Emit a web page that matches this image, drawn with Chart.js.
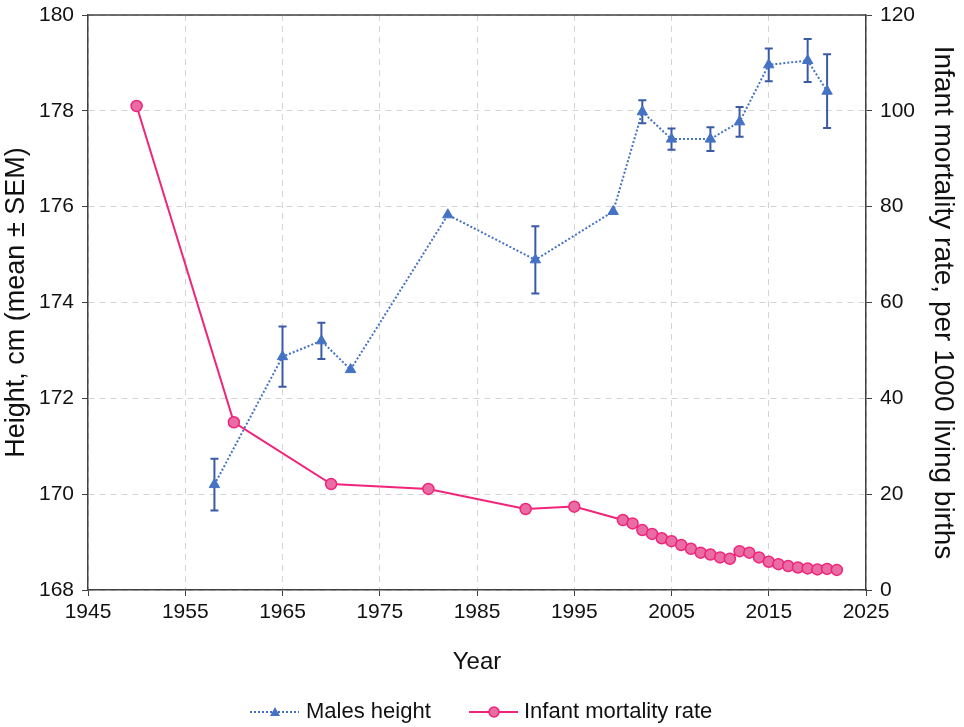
<!DOCTYPE html>
<html>
<head>
<meta charset="utf-8">
<script src="https://cdn.jsdelivr.net/npm/chart.js@4"></script>
<style>
  body { margin: 0; background: #fff; }
</style>
</head>
<body>
<canvas id="chart" width="964" height="727"></canvas>
<script>
// males height, mean and SEM
let heightYears = [1958, 1965, 1969, 1972, 1982, 1991, 1999, 2002, 2005, 2009, 2012, 2015, 2019, 2021];
let heightMean = [170.2, 172.87, 173.2, 172.6, 175.83, 174.89, 175.9, 177.98, 177.41, 177.41, 177.77, 178.96, 179.05, 178.41];
let heightSem = [0.54, 0.63, 0.38, 0, 0, 0.7, 0, 0.24, 0.22, 0.25, 0.31, 0.34, 0.45, 0.77];

// infant mortality per 1000 living births
let imrYears = [1950, 1960, 1970, 1980, 1990, 1995, 2000, 2001, 2002, 2003, 2004, 2005, 2006, 2007, 2008,
    2009, 2010, 2011, 2012, 2013, 2014, 2015, 2016, 2017, 2018, 2019, 2020, 2021, 2022];
let imrValues = [101, 35, 22.1, 21.1, 16.9, 17.4, 14.6, 13.9, 12.5, 11.7, 10.8, 10.2, 9.4, 8.6, 7.8,
    7.4, 6.8, 6.5, 8.1, 7.8, 6.8, 5.9, 5.4, 5.0, 4.7, 4.5, 4.3, 4.4, 4.2];

let xTicks = [1945, 1955, 1965, 1975, 1985, 1995, 2005, 2015, 2025];
let legendLabels = ['Males height', 'Infant mortality rate'];

let blue = '#4472C4';
let blueDark = '#3A5AA6';
let pink = '#F0247A';
let pinkFill = '#E96CA5';
let font = 'Liberation Sans, Arial, sans-serif';

let heightPts = heightYears.map((y, i) => ({x: y, y: heightMean[i]}));
let imrPts = imrYears.map((y, i) => ({x: y, y: imrValues[i]}));

let errorBars = {
    id: 'errorBars',
    beforeDatasetsDraw(chart) {
        let ctx = chart.ctx;
        let xs = chart.scales.x, ys = chart.scales.y;
        ctx.save();
        ctx.strokeStyle = blueDark;
        ctx.lineWidth = 2;
        heightYears.forEach((yr, i) => {
            if (!heightSem[i]) return;
            let px = xs.getPixelForValue(yr);
            let top = ys.getPixelForValue(heightMean[i] + heightSem[i]);
            let bot = ys.getPixelForValue(heightMean[i] - heightSem[i]);
            ctx.beginPath();
            ctx.moveTo(px, top); ctx.lineTo(px, bot);
            ctx.moveTo(px - 4, top); ctx.lineTo(px + 4, top);
            ctx.moveTo(px - 4, bot); ctx.lineTo(px + 4, bot);
            ctx.stroke();
        });
        ctx.restore();
    }
};

let frameAndLegend = {
    id: 'frameAndLegend',
    afterDraw(chart) {
        let ctx = chart.ctx;
        let a = chart.chartArea;
        ctx.save();
        // top edge of the box
        ctx.strokeStyle = '#404040';
        ctx.lineWidth = 1.5;
        ctx.beginPath();
        ctx.moveTo(a.left, a.top); ctx.lineTo(a.right, a.top);
        ctx.stroke();

        // legend
        let ly = 712;
        ctx.strokeStyle = blue;
        ctx.lineWidth = 2;
        ctx.setLineDash([2, 2]);
        ctx.beginPath();
        ctx.moveTo(250, ly); ctx.lineTo(299, ly);
        ctx.stroke();
        ctx.setLineDash([]);
        ctx.fillStyle = blue;
        ctx.beginPath();
        ctx.moveTo(275, ly - 5); ctx.lineTo(280, ly + 4); ctx.lineTo(270, ly + 4);
        ctx.closePath();
        ctx.fill();

        ctx.strokeStyle = pink;
        ctx.lineWidth = 2;
        ctx.beginPath();
        ctx.moveTo(469, ly); ctx.lineTo(518, ly);
        ctx.stroke();
        ctx.fillStyle = pinkFill;
        ctx.lineWidth = 1.5;
        ctx.beginPath();
        ctx.arc(494, ly, 5, 0, Math.PI * 2);
        ctx.fill(); ctx.stroke();

        ctx.fillStyle = '#111';
        ctx.font = '22px ' + font;
        ctx.textBaseline = 'middle';
        ctx.fillText(legendLabels[0], 306, ly);
        ctx.fillText(legendLabels[1], 524, ly);
        ctx.restore();
    }
};

let gridCol = '#d4d4d4';
let axisCol = '#404040';

function fitSide(w) {
    return (s) => {
        s.width = w;
        s.paddingTop = 0;
        s.paddingBottom = 0;
    };
}

new Chart(document.getElementById('chart'), {
    type: 'line',
    data: {
        datasets: [
            {
                label: legendLabels[1],
                data: imrPts,
                yAxisID: 'y2',
                borderColor: pink,
                borderWidth: 2,
                backgroundColor: pinkFill,
                pointBackgroundColor: pinkFill,
                pointBorderColor: pink,
                pointBorderWidth: 1.5,
                pointRadius: 5.5,
                pointStyle: 'circle',
                tension: 0,
                order: 1
            },
            {
                label: legendLabels[0],
                data: heightPts,
                yAxisID: 'y',
                borderColor: blue,
                borderWidth: 2,
                borderDash: [2, 2],
                backgroundColor: blue,
                pointBackgroundColor: blue,
                pointBorderColor: blue,
                pointBorderWidth: 1,
                pointRadius: 6,
                pointStyle: 'triangle',
                tension: 0,
                order: 0
            }
        ]
    },
    options: {
        responsive: false,
        animation: false,
        layout: { padding: { top: 15, left: 0, right: 0, bottom: 0 } },
        plugins: {
            legend: { display: false },
            tooltip: { enabled: false }
        },
        scales: {
            x: {
                type: 'linear',
                min: 1945,
                max: 2025,
                afterBuildTicks: (s) => { s.ticks = xTicks.map(v => ({value: v})); },
                afterFit: (s) => { s.height = 137; },
                ticks: {
                    color: '#111',
                    font: { family: font, size: 21 },
                    padding: 4,
                    maxRotation: 0,
                    callback: (v) => String(v)
                },
                grid: { color: gridCol, tickColor: axisCol, tickLength: 6, tickBorderDash: [] },
                border: { color: axisCol, width: 1.5, dash: [6, 5] },
                title: {
                    display: true,
                    text: 'Year',
                    color: '#111',
                    font: { family: font, size: 24 },
                    padding: { top: 0, bottom: 50 }
                }
            },
            y: {
                position: 'left',
                min: 168,
                max: 180,
                afterFit: fitSide(88),
                ticks: {
                    stepSize: 2,
                    color: '#111',
                    font: { family: font, size: 21 },
                    padding: 8
                },
                grid: { color: gridCol, tickColor: axisCol, tickLength: 6, tickBorderDash: [] },
                border: { color: axisCol, width: 1.5, dash: [6, 5] },
                title: {
                    display: true,
                    text: 'Height, cm (mean ± SEM)',
                    color: '#111',
                    font: { family: font, size: 27 },
                    padding: { top: 0, bottom: 0 }
                }
            },
            y2: {
                position: 'right',
                min: 0,
                max: 120,
                afterFit: fitSide(98),
                ticks: {
                    stepSize: 20,
                    color: '#111',
                    font: { family: font, size: 21 },
                    padding: 8
                },
                grid: { drawOnChartArea: false, color: gridCol, tickColor: axisCol, tickLength: 6, tickBorderDash: [] },
                border: { color: axisCol, width: 1.5 },
                title: {
                    display: true,
                    text: 'Infant mortality rate, per 1000 living births',
                    color: '#111',
                    font: { family: font, size: 28 },
                    padding: { top: 4, bottom: 0 }
                }
            }
        }
    },
    plugins: [errorBars, frameAndLegend]
});
</script>
</body>
</html>
